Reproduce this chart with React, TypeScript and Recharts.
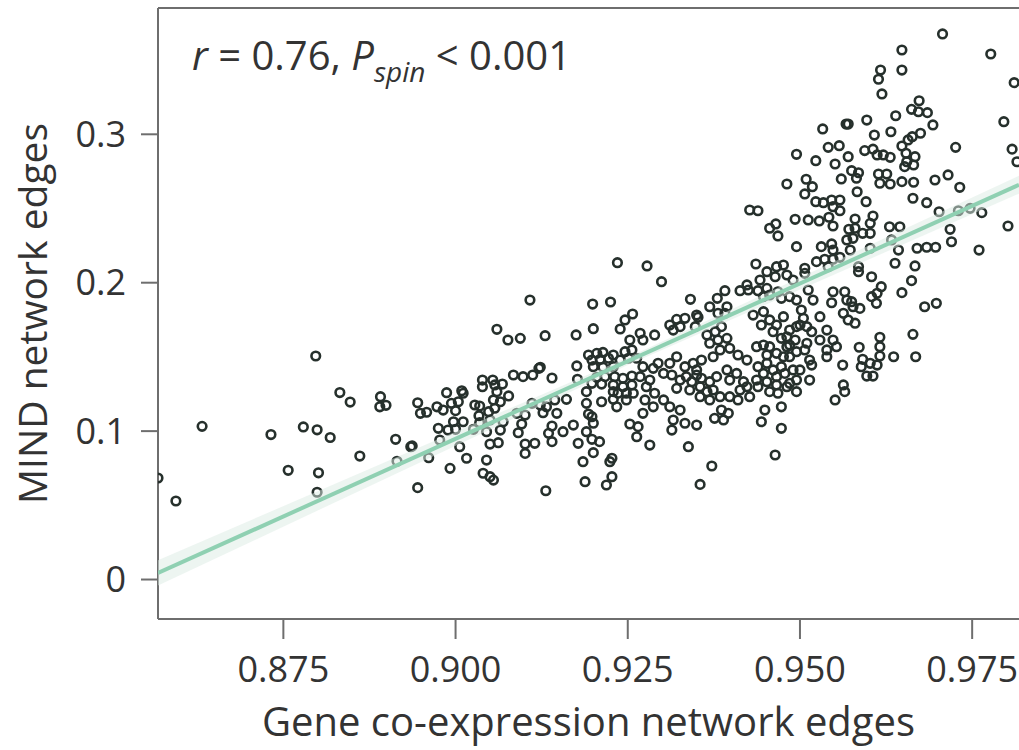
import React from 'react'
import { ComposedChart, Scatter, Line, Area, XAxis, YAxis, ReferenceLine } from 'recharts'

const X_TICKS = [0.875, 0.9, 0.925, 0.95, 0.975]
const Y_TICKS = [0, 0.1, 0.2, 0.3]
const X_DOMAIN = [0.8568, 0.9818]
const Y_DOMAIN = [-0.0266, 0.3851]

// fitted line and its confidence band
const fitX = [0.8568, 0.9818]
const fitY = [0.0044, 0.266]
const bandX = [0.8568, 0.925, 0.9818]
const bandLow = [-0.004, 0.1446, 0.26]
const bandHigh = [0.013, 0.1496, 0.272]

// [gene co-expression edge, MIND edge]
const sparseLeft = [
  [0.8568, 0.0684], [0.8594, 0.0529], [0.8632, 0.1032], [0.8732, 0.0977], [0.8757, 0.0736],
  [0.8779, 0.1028], [0.8797, 0.1506], [0.8799, 0.1009], [0.8801, 0.0719], [0.8799, 0.0588],
  [0.8818, 0.0957], [0.8832, 0.126], [0.8847, 0.1196], [0.8861, 0.0832], [0.8891, 0.1232],
  [0.889, 0.1164], [0.8899, 0.1174], [0.8913, 0.0945], [0.8915, 0.0797], [0.8937, 0.09],
  [0.8935, 0.0895], [0.8945, 0.1191], [0.8949, 0.112], [0.8958, 0.1127], [0.8945, 0.0619],
  [0.8961, 0.0821], [0.8973, 0.1164], [0.8975, 0.1019],
]

const clusterMid = [
  [0.9235, 0.2135], [0.9108, 0.1883], [0.9199, 0.1856], [0.9225, 0.187], [0.906, 0.1686],
  [0.9076, 0.1614], [0.9094, 0.1625], [0.913, 0.1643], [0.9175, 0.1648], [0.92, 0.169],
  [0.9239, 0.1688], [0.9246, 0.1749], [0.9257, 0.1789],
  [0.9193, 0.1513], [0.9205, 0.1524], [0.9214, 0.153], [0.9229, 0.1513], [0.9246, 0.1535], [0.9256, 0.1547],
  [0.9198, 0.1479], [0.921, 0.1484], [0.9222, 0.1491], [0.9239, 0.1479], [0.9251, 0.1491], [0.9263, 0.1491],
  [0.9123, 0.143], [0.9176, 0.1439], [0.92, 0.1434], [0.9214, 0.143], [0.9229, 0.1434],
  [0.9084, 0.1378], [0.9098, 0.1367], [0.9112, 0.1378], [0.9121, 0.1423],
  [0.914, 0.1358], [0.9177, 0.1349], [0.9205, 0.1363], [0.9217, 0.1367], [0.9231, 0.1367], [0.9243, 0.1356], [0.9256, 0.1371],
  [0.9039, 0.1344], [0.9039, 0.1299], [0.9054, 0.1344], [0.9057, 0.1311], [0.9068, 0.1317],
  [0.9198, 0.1322], [0.9212, 0.1317], [0.9229, 0.1311], [0.9243, 0.1299], [0.9256, 0.1311],
  [0.8987, 0.1259], [0.9009, 0.1272], [0.9011, 0.1255], [0.906, 0.1266], [0.9077, 0.1237],
  [0.9161, 0.1214], [0.919, 0.1266], [0.9229, 0.1266], [0.9236, 0.1255], [0.9248, 0.1255], [0.9258, 0.1255],
  [0.8994, 0.1187], [0.9004, 0.1198], [0.9028, 0.1176], [0.9035, 0.1169], [0.9055, 0.121], [0.9065, 0.1198],
  [0.9111, 0.1187], [0.9123, 0.1176], [0.9132, 0.1164], [0.9144, 0.121], [0.919, 0.1187], [0.9212, 0.1198],
  [0.9229, 0.1214], [0.9234, 0.1164], [0.9248, 0.121],
  [0.8982, 0.1142], [0.9, 0.1138], [0.9034, 0.1104], [0.9048, 0.1131], [0.9057, 0.1154], [0.9089, 0.112],
  [0.9101, 0.1108], [0.9127, 0.1124], [0.9147, 0.112], [0.9193, 0.1115], [0.9198, 0.1097],
  [0.8997, 0.1063], [0.9011, 0.1063], [0.9035, 0.1057], [0.905, 0.1075], [0.9069, 0.1063], [0.9096, 0.1048],
  [0.914, 0.1034], [0.9171, 0.1041], [0.92, 0.1053], [0.9253, 0.1048], [0.9265, 0.103],
  [0.8989, 0.1007], [0.9, 0.1012], [0.9026, 0.1012], [0.9045, 0.0996], [0.9065, 0.1007], [0.9091, 0.0989],
  [0.9135, 0.0985], [0.9156, 0.0996], [0.919, 0.0996],
  [0.8977, 0.094], [0.9006, 0.0895], [0.905, 0.0913], [0.9062, 0.0922], [0.9101, 0.0913], [0.9115, 0.0918],
  [0.914, 0.0929], [0.9178, 0.0918], [0.9198, 0.0945], [0.9209, 0.0929], [0.9263, 0.0962],
  [0.9101, 0.085], [0.9016, 0.0817], [0.9045, 0.0805], [0.9227, 0.0817], [0.9185, 0.0794], [0.92, 0.0855], [0.9224, 0.0794],
  [0.8992, 0.0749], [0.904, 0.0716], [0.905, 0.0693], [0.9055, 0.067], [0.9227, 0.0693], [0.9219, 0.0637],
  [0.9188, 0.0659], [0.9131, 0.0598],
]

const clusterCentre = [
  [0.9427, 0.249], [0.9439, 0.2485], [0.9456, 0.2367], [0.9465, 0.2396], [0.9468, 0.2315], [0.9493, 0.2427],
  [0.9495, 0.2243], [0.9278, 0.2113], [0.9299, 0.2007], [0.9436, 0.2126],
  [0.9452, 0.2074], [0.9466, 0.2108], [0.9476, 0.2119], [0.9464, 0.204], [0.9481, 0.2052], [0.949, 0.2018], [0.9442, 0.2018],
  [0.9423, 0.1985], [0.9413, 0.1946], [0.9425, 0.1951],
  [0.9439, 0.1946], [0.9452, 0.1962], [0.9447, 0.1906], [0.9456, 0.1917], [0.9468, 0.1939], [0.9473, 0.1895],
  [0.9485, 0.1906], [0.9495, 0.1883],
  [0.9391, 0.1946], [0.938, 0.1895], [0.9394, 0.1838], [0.9369, 0.1838], [0.9381, 0.1794], [0.9391, 0.1794],
  [0.9341, 0.1888], [0.935, 0.1782], [0.9352, 0.1767],
  [0.9321, 0.1753], [0.9333, 0.176], [0.9311, 0.1715], [0.9316, 0.1681], [0.9326, 0.1704], [0.9348, 0.1704],
  [0.9432, 0.1782], [0.9447, 0.1805], [0.9456, 0.1749], [0.9444, 0.1715], [0.9466, 0.1715], [0.9476, 0.1771], [0.9461, 0.167],
  [0.9485, 0.1681], [0.9495, 0.1704], [0.9493, 0.1614], [0.9481, 0.1636], [0.9485, 0.158], [0.9473, 0.1625],
  [0.9268, 0.1659], [0.9272, 0.1614], [0.9289, 0.1648], [0.9253, 0.1614],
  [0.9365, 0.1648], [0.9377, 0.167], [0.9386, 0.1704], [0.9369, 0.1592], [0.9381, 0.1614], [0.9394, 0.1625],
  [0.9398, 0.1558], [0.9384, 0.1547], [0.9374, 0.1501],
  [0.9321, 0.1501], [0.9311, 0.1457], [0.9333, 0.1434], [0.9345, 0.1457], [0.9357, 0.1479], [0.935, 0.1412],
  [0.941, 0.1513], [0.9423, 0.1479], [0.9437, 0.1569], [0.9447, 0.158], [0.9456, 0.1569], [0.9452, 0.1513],
  [0.9466, 0.1524], [0.9476, 0.1501], [0.9485, 0.1501], [0.9481, 0.1569], [0.9495, 0.1535],
  [0.9272, 0.1434], [0.9287, 0.1423], [0.9294, 0.1457], [0.9268, 0.1367], [0.9282, 0.1344], [0.9302, 0.1389],
  [0.9277, 0.1299], [0.9289, 0.1255], [0.9302, 0.121], [0.9275, 0.121], [0.9287, 0.1164], [0.9272, 0.112],
  [0.9314, 0.1378], [0.9326, 0.1344], [0.9335, 0.1367], [0.935, 0.1378], [0.9343, 0.1333], [0.9357, 0.1356],
  [0.9369, 0.1333], [0.9379, 0.1367], [0.9321, 0.1288], [0.934, 0.1277], [0.9355, 0.1299], [0.9365, 0.1266],
  [0.9374, 0.1277], [0.9384, 0.1232], [0.9355, 0.1232], [0.9369, 0.121],
  [0.9394, 0.1412], [0.9398, 0.1344], [0.9408, 0.1389], [0.9418, 0.1333], [0.9413, 0.1277], [0.9423, 0.1299],
  [0.9398, 0.1232], [0.9427, 0.1232], [0.941, 0.121],
  [0.9439, 0.1434], [0.9452, 0.1457], [0.9447, 0.1389], [0.9461, 0.1412], [0.9473, 0.1434], [0.9466, 0.1367],
  [0.9478, 0.1389], [0.949, 0.1412], [0.9437, 0.1344], [0.9452, 0.1333], [0.9466, 0.1311], [0.9481, 0.1299],
  [0.9439, 0.1299], [0.9456, 0.1266], [0.9468, 0.1255], [0.9485, 0.1322], [0.9495, 0.1344], [0.9495, 0.1266],
  [0.9449, 0.1142], [0.9473, 0.1164], [0.9444, 0.1063], [0.9473, 0.1019], [0.9464, 0.0839],
  [0.9311, 0.1164], [0.9326, 0.1142], [0.9316, 0.1075], [0.9333, 0.1053], [0.935, 0.1041], [0.9314, 0.1007],
  [0.9376, 0.1086], [0.9386, 0.1142], [0.9396, 0.112], [0.9389, 0.1075],
  [0.9282, 0.0906], [0.9338, 0.0895], [0.9372, 0.0765], [0.9355, 0.0641],
  [0.9495, 0.2865], [0.9481, 0.2665],
]

const upperRight = [
  [0.9707, 0.3676], [0.9777, 0.3541], [0.9811, 0.3348], [0.9648, 0.3568], [0.9648, 0.3433], [0.9617, 0.3433],
  [0.9614, 0.3371], [0.9619, 0.3272],
  [0.9673, 0.3226], [0.9662, 0.3168], [0.9672, 0.3152], [0.9685, 0.3146], [0.9693, 0.3063], [0.9639, 0.3125],
  [0.9597, 0.3096], [0.9567, 0.3069], [0.957, 0.3069], [0.9533, 0.3036], [0.9632, 0.3017], [0.9608, 0.2995], [0.9796, 0.3085],
  [0.9675, 0.3007], [0.9663, 0.2984], [0.9657, 0.2962], [0.9648, 0.2921], [0.9726, 0.2912], [0.9808, 0.29],
  [0.9541, 0.2912], [0.9557, 0.2923], [0.957, 0.2849], [0.9523, 0.2822], [0.9551, 0.28],
  [0.9594, 0.289], [0.9606, 0.29], [0.9612, 0.2861], [0.9621, 0.2861], [0.9631, 0.2845],
  [0.9654, 0.2872], [0.9655, 0.2815], [0.9667, 0.2849], [0.9665, 0.2793], [0.9652, 0.2782],
  [0.9575, 0.2755], [0.9585, 0.2741], [0.9582, 0.2704], [0.956, 0.2699], [0.9509, 0.2697], [0.9518, 0.2647], [0.9507, 0.2598],
  [0.9614, 0.2732], [0.9626, 0.2732], [0.9616, 0.267], [0.9631, 0.2665], [0.9648, 0.2681], [0.9665, 0.2677],
  [0.9696, 0.2692], [0.9715, 0.2726], [0.9732, 0.2643], [0.9583, 0.2613],
  [0.9664, 0.2569], [0.9684, 0.2539], [0.9702, 0.2478], [0.9596, 0.2546], [0.9606, 0.2449],
  [0.9523, 0.2546], [0.9534, 0.2539], [0.9546, 0.2557], [0.9558, 0.2557], [0.9548, 0.2512], [0.9558, 0.2485],
  [0.973, 0.2485], [0.9747, 0.2501], [0.9764, 0.2472], [0.9802, 0.2382],
  [0.9512, 0.2423], [0.9528, 0.2416], [0.9542, 0.2441], [0.9548, 0.2382],
  [0.958, 0.2429], [0.9602, 0.24], [0.9571, 0.236], [0.958, 0.2367], [0.9591, 0.2333], [0.9602, 0.2333],
  [0.9577, 0.2299], [0.9568, 0.2288],
  [0.963, 0.2377], [0.9645, 0.2377], [0.9718, 0.236], [0.972, 0.2276], [0.976, 0.222],
  [0.967, 0.2232], [0.9684, 0.2239], [0.9697, 0.2239], [0.9633, 0.2288], [0.9643, 0.222],
  [0.9531, 0.2243], [0.9546, 0.2261], [0.9548, 0.222], [0.9573, 0.222], [0.9602, 0.2232],
  [0.9524, 0.2142], [0.9536, 0.2158], [0.9548, 0.2158], [0.9558, 0.2171], [0.9507, 0.2097],
  [0.9638, 0.2131], [0.9667, 0.2113], [0.9585, 0.2108], [0.9815, 0.2815],
]

const lowerRight = [
  [0.9541, 0.2108], [0.9585, 0.2074], [0.9662, 0.2014], [0.9648, 0.1933], [0.9604, 0.204],
  [0.9618, 0.1973], [0.9612, 0.1929], [0.9604, 0.1906], [0.9611, 0.1861],
  [0.9681, 0.1838], [0.9698, 0.1861],
  [0.9507, 0.2063], [0.9512, 0.1951], [0.9519, 0.1883],
  [0.9548, 0.1939], [0.9546, 0.1865], [0.9565, 0.1939], [0.9568, 0.1883], [0.9575, 0.1872], [0.9587, 0.1827], [0.9577, 0.1838],
  [0.9563, 0.1794], [0.957, 0.1749], [0.958, 0.1727],
  [0.9502, 0.1816], [0.9505, 0.176], [0.95, 0.1715], [0.951, 0.1704], [0.9517, 0.167], [0.9529, 0.1771],
  [0.9539, 0.1681], [0.9548, 0.1614], [0.9553, 0.1569], [0.951, 0.1592], [0.9507, 0.1547], [0.9514, 0.1479],
  [0.9539, 0.1547], [0.9539, 0.1501], [0.9529, 0.1614],
  [0.9616, 0.1632], [0.9616, 0.1569], [0.9616, 0.1506], [0.9586, 0.1565], [0.9591, 0.1484], [0.9602, 0.1457],
  [0.9612, 0.1445], [0.9589, 0.1434], [0.9597, 0.1371], [0.9606, 0.1371], [0.9636, 0.1501], [0.9668, 0.1501], [0.9664, 0.1652],
  [0.9562, 0.1445], [0.9563, 0.1311], [0.9565, 0.1266], [0.9551, 0.121],
  [0.9514, 0.1344], [0.95, 0.1412], [0.9517, 0.1445],
]

const points = [...sparseLeft, ...clusterMid, ...clusterCentre, ...upperRight, ...lowerRight].map(([x, y]) => ({ x, y }))
const fitData = fitX.map((x, i) => ({ x, y: fitY[i] }))
const bandData = bandX.map((x, i) => ({ x, band: [bandLow[i], bandHigh[i]] }))

const AXIS = '#6e6e6e'
const TEXT = '#333333'

const Ring = (props: any) => {
  const { cx, cy } = props
  if (cx == null || cy == null) return null
  return <circle cx={cx} cy={cy} r={4.3} fill="none" stroke="#26302c" strokeWidth={2.6} />
}

export default function App() {
  return (
    <div style={{ position: 'absolute', left: 0, top: 0, width: 1019, height: 750, fontFamily: "'Open Sans', sans-serif", background: '#fff' }}>
      <ComposedChart width={1019} height={750} margin={{ top: 8, right: 0, bottom: 0, left: 0 }}>
        <XAxis
          type="number"
          dataKey="x"
          domain={X_DOMAIN}
          allowDataOverflow
          ticks={X_TICKS}
          tickFormatter={(v: number) => v.toFixed(3)}
          height={131}
          tickSize={20}
          tickMargin={17}
          axisLine={{ stroke: AXIS, strokeWidth: 2 }}
          tickLine={{ stroke: AXIS, strokeWidth: 2 }}
          tick={{ fontSize: 36, fill: TEXT }}
          label={{ value: 'Gene co-expression network edges', position: 'insideBottom', offset: 14, fontSize: 40, fill: TEXT }}
        />
        <YAxis
          type="number"
          dataKey="y"
          domain={Y_DOMAIN}
          allowDataOverflow
          ticks={Y_TICKS}
          tickFormatter={(v: number) => (v === 0 ? '0' : String(v))}
          width={158}
          tickSize={17}
          tickMargin={15}
          axisLine={{ stroke: AXIS, strokeWidth: 2 }}
          tickLine={{ stroke: AXIS, strokeWidth: 2 }}
          tick={{ fontSize: 36, fill: TEXT }}
          label={{ value: 'MIND network edges', angle: -90, position: 'insideLeft', offset: 33, fontSize: 39, fill: TEXT, style: { textAnchor: 'middle' } }}
        />
        <ReferenceLine y={Y_DOMAIN[1]} stroke={AXIS} strokeWidth={2} ifOverflow="visible" />
        <Scatter data={points} shape={Ring} isAnimationActive={false} />
        <Area data={bandData} dataKey="band" type="linear" stroke="none" fill="#dcece4" fillOpacity={0.5} isAnimationActive={false} zIndex={700} />
        <Line data={fitData} dataKey="y" type="linear" dot={false} activeDot={false} stroke="#8fd0b2" strokeWidth={4} isAnimationActive={false} zIndex={800} />
      </ComposedChart>
      <svg width={1019} height={110} style={{ position: 'absolute', left: 0, top: 0, pointerEvents: 'none' }}>
        <text x={192} y={70} fontSize={40} fill={TEXT} fontFamily="'Open Sans', sans-serif">
          <tspan fontStyle="italic">r</tspan>
          <tspan>{' = 0.76, '}</tspan>
          <tspan fontStyle="italic">P</tspan>
          <tspan fontStyle="italic" fontSize={28} dy={12}>spin</tspan>
          <tspan dy={-12}>{' < 0.001'}</tspan>
        </text>
      </svg>
    </div>
  )
}
